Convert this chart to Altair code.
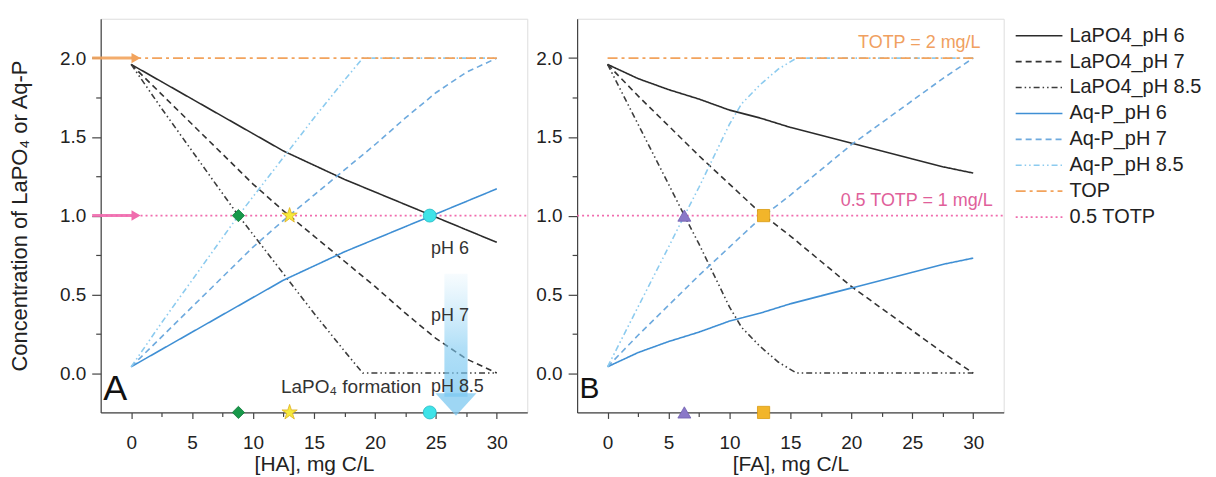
import altair as alt
import pandas as pd

FONT = "Liberation Sans"
TXT = "#222222"
AX = "#444444"

# ---------------- data ----------------
series_names = ["LaPO4_pH 6", "LaPO4_pH 7", "LaPO4_pH 8.5",
                "Aq-P_pH 6", "Aq-P_pH 7", "Aq-P_pH 8.5", "TOP", "0.5 TOTP"]
series_colors = ["#2b2b2b", "#333333", "#3d3d3d",
                 "#3f8fd4", "#6eaade", "#8ccbef", "#f2a35c", "#f06cae"]
series_dashes = [[1, 0], [6, 4], [6, 3, 1.5, 3, 1.5, 3],
                 [1, 0], [6, 4], [6, 3, 1.5, 3, 1.5, 3], [10, 4, 3, 4], [2, 3]]

x_grid = [0, 2.5, 5, 7.5, 10, 12.5, 15, 17.5, 20, 22.5, 25, 27.5, 30]

# Panel A: humic acid
ha_lapo4_ph6 = [1.96, 1.85, 1.74, 1.63, 1.52, 1.41, 1.32, 1.23, 1.15, 1.07, 0.99, 0.91, 0.83]
ha_aqp_ph6 = [0.04, 0.15, 0.26, 0.37, 0.48, 0.59, 0.68, 0.77, 0.85, 0.93, 1.01, 1.09, 1.17]
ha_lapo4_ph7 = [1.96, 1.77, 1.58, 1.39, 1.20, 1.03, 0.87, 0.71, 0.55, 0.38, 0.22, 0.09, 0.00]
ha_aqp_ph7 = [0.04, 0.23, 0.42, 0.61, 0.80, 0.97, 1.13, 1.29, 1.45, 1.62, 1.78, 1.91, 2.00]
ha_x85 = [0, 2.5, 5, 7.5, 8.8, 10, 12.5, 15, 17.5, 19, 22.5, 25, 27.5, 30]
ha_lapo4_ph85 = [1.96, 1.68, 1.41, 1.14, 1.00, 0.88, 0.63, 0.38, 0.14, 0.00, 0.00, 0.00, 0.00, 0.00]
ha_aqp_ph85 = [0.04, 0.32, 0.59, 0.86, 1.00, 1.12, 1.37, 1.62, 1.86, 2.00, 2.00, 2.00, 2.00, 2.00]

# Panel B: fulvic acid
fa_lapo4_ph6 = [1.96, 1.87, 1.80, 1.74, 1.67, 1.62, 1.56, 1.51, 1.46, 1.41, 1.36, 1.31, 1.27]
fa_aqp_ph6 = [0.04, 0.13, 0.20, 0.26, 0.33, 0.38, 0.44, 0.49, 0.54, 0.59, 0.64, 0.69, 0.73]
fa_lapo4_ph7 = [1.96, 1.76, 1.57, 1.38, 1.20, 1.02, 0.87, 0.71, 0.55, 0.41, 0.27, 0.13, 0.00]
fa_aqp_ph7 = [0.04, 0.24, 0.43, 0.62, 0.80, 0.98, 1.13, 1.29, 1.45, 1.59, 1.73, 1.87, 2.00]
fa_x85 = [0, 2.5, 5, 6.3, 7.5, 10, 11, 12.5, 14, 15.5, 20, 25, 30]
fa_lapo4_ph85 = [1.96, 1.58, 1.20, 1.00, 0.82, 0.42, 0.29, 0.17, 0.07, 0.00, 0.00, 0.00, 0.00]
fa_aqp_ph85 = [0.04, 0.42, 0.80, 1.00, 1.18, 1.58, 1.71, 1.83, 1.93, 2.00, 2.00, 2.00, 2.00]

top_x = [0, 30]
top_y = [2.0, 2.0]
half_x = [-2.5, 32.5]
half_y = [1.0, 1.0]

# markers: (on the 1 mg/L line and on the x axis)
markA_names = ["diamond", "star", "circle"]
markA_x = [8.8, 13.0, 24.5]
markB_names = ["triangle", "square"]
markB_x = [6.3, 12.8]
mark_levels = [1.0, -0.25]

# arrows on the y axis of panel A
yarrow_levels = [2.0, 1.0]
yarrow_x = [-3.2, 0.4]

# gradient arrow in panel A
garrow_x = [25.7, 27.6]
garrow_y = [0.63, -0.15]
garrow_head_x = 26.65
garrow_head_y = -0.2

# ---------------- tables ----------------
rows = []
def add(panel, name, xs, ys):
    for xv, yv in zip(xs, ys):
        rows.append({"panel": panel, "series": name, "x": xv, "y": yv})

add("A", "LaPO4_pH 6", x_grid, ha_lapo4_ph6)
add("A", "LaPO4_pH 7", x_grid, ha_lapo4_ph7)
add("A", "LaPO4_pH 8.5", ha_x85, ha_lapo4_ph85)
add("A", "Aq-P_pH 6", x_grid, ha_aqp_ph6)
add("A", "Aq-P_pH 7", x_grid, ha_aqp_ph7)
add("A", "Aq-P_pH 8.5", ha_x85, ha_aqp_ph85)
add("A", "TOP", top_x, top_y)
add("A", "0.5 TOTP", half_x, half_y)
add("B", "LaPO4_pH 6", x_grid, fa_lapo4_ph6)
add("B", "LaPO4_pH 7", x_grid, fa_lapo4_ph7)
add("B", "LaPO4_pH 8.5", fa_x85, fa_lapo4_ph85)
add("B", "Aq-P_pH 6", x_grid, fa_aqp_ph6)
add("B", "Aq-P_pH 7", x_grid, fa_aqp_ph7)
add("B", "Aq-P_pH 8.5", fa_x85, fa_aqp_ph85)
add("B", "TOP", top_x, top_y)
add("B", "0.5 TOTP", half_x, half_y)
df = pd.DataFrame(rows)

mrows = []
for n, xv in zip(markA_names, markA_x):
    for lv in mark_levels:
        mrows.append({"panel": "A", "name": n, "x": xv, "y": lv})
for n, xv in zip(markB_names, markB_x):
    for lv in mark_levels:
        mrows.append({"panel": "B", "name": n, "x": xv, "y": lv})
mdf = pd.DataFrame(mrows)

ya_df = pd.DataFrame([{"lvl": lv, "x": yarrow_x[0], "x2": yarrow_x[1]} for lv in yarrow_levels])
ga_df = pd.DataFrame([{"x": garrow_x[0], "x2": garrow_x[1], "y": garrow_y[0], "y2": garrow_y[1]}])
gh_df = pd.DataFrame([{"x": garrow_head_x, "y": garrow_head_y}])

minor_x = [2.5, 7.5, 12.5, 17.5, 22.5, 27.5]
minor_y = [0.25, 0.75, 1.25, 1.75]
minor_df = pd.DataFrame({"x": [0.0], "y": [0.0]})

# ---------------- scales / axes ----------------
xs = alt.Scale(domain=[-2.5, 32.5], nice=False, zero=False)
ys = alt.Scale(domain=[-0.25, 2.25], nice=False, zero=False)

def x_axis(title):
    return alt.Axis(title=title, values=[0, 5, 10, 15, 20, 25, 30], grid=False,
                    tickSize=6, labelPadding=15, labelFontSize=19, labelColor=TXT,
                    titleFontSize=21, titleFontWeight="normal", titleColor=TXT, titlePadding=1,
                    domainColor=AX, tickColor=AX, domainWidth=1.2, tickWidth=1.2, labelFont=FONT, titleFont=FONT)

def y_axis(title):
    kw = dict(values=[0, 0.5, 1.0, 1.5, 2.0], format=".1f", grid=False, tickSize=9, labelPadding=6,
              labelFontSize=19, labelColor=TXT, domainColor=AX, tickColor=AX, domainWidth=1.2,
              tickWidth=1.2, labelFont=FONT)
    if title:
        return alt.Axis(title=title, titleFontSize=22, titleFontWeight="normal", titleColor=TXT,
                        titlePadding=28, titleFont=FONT, **kw)
    return alt.Axis(title=None, **kw)

legend = alt.Legend(title=None, symbolType="stroke", symbolSize=2200, symbolStrokeWidth=1.6,
                    labelFontSize=20, labelFont=FONT, labelColor=TXT, rowPadding=4, clipHeight=22,
                    offset=4, padding=6, labelOffset=6)

W, H = 428, 395

def panel(p, xtitle, ytitle):
    base_lines = alt.Chart(df).transform_filter(alt.datum.panel == p).mark_line(
        strokeWidth=1.6, clip=True).encode(
        x=alt.X("x:Q", scale=xs, axis=x_axis(xtitle)),
        y=alt.Y("y:Q", scale=ys, axis=y_axis(ytitle)),
        color=alt.Color("series:N", scale=alt.Scale(domain=series_names, range=series_colors), legend=legend),
        strokeDash=alt.StrokeDash("series:N", scale=alt.Scale(domain=series_names, range=series_dashes), legend=legend),
    )
    layers = [base_lines]

    mk = alt.Chart(mdf).transform_filter(alt.datum.panel == p)
    shapes = {
        "diamond": ("diamond", "#18984a", "#0f7a38", 150),
        "star": ("M0,-1L0.2245,-0.309L0.951,-0.309L0.363,0.118L0.588,0.809L0,0.382L-0.588,0.809L-0.363,0.118L-0.951,-0.309L-0.2245,-0.309Z",
                 "#f5ea3c", "#e0b020", 260),
        "circle": ("circle", "#3fe3e8", "#26b9c4", 170),
        "triangle": ("triangle-up", "#8a78c8", "#7060b0", 170),
        "square": ("square", "#f2b52a", "#d99a10", 150),
    }
    names = markA_names if p == "A" else markB_names
    for n in names:
        shp, fill, stroke, size = shapes[n]
        layers.append(mk.transform_filter(alt.datum.name == n).mark_point(
            shape=shp, filled=True, fill=fill, stroke=stroke, strokeWidth=0.8, size=size, opacity=1).encode(
            x=alt.X("x:Q", scale=xs, axis=None), y=alt.Y("y:Q", scale=ys, axis=None)))

    if p == "A":
        # gradient arrow
        layers.append(alt.Chart(ga_df).mark_rect(
            color=alt.Gradient(gradient="linear", stops=[
                alt.GradientStop(color="rgba(150,212,245,0.08)", offset=0),
                alt.GradientStop(color="rgba(125,202,242,0.6)", offset=0.6),
                alt.GradientStop(color="rgba(110,195,240,0.7)", offset=1)],
                x1=0, x2=0, y1=0, y2=1)).encode(
            x=alt.X("x:Q", scale=xs, axis=None), x2="x2:Q",
            y=alt.Y("y:Q", scale=ys, axis=None), y2="y2:Q"))
        layers.append(alt.Chart(gh_df).mark_point(
            shape="M-1,-0.55L1,-0.55L0,0.55Z", filled=True, fill="#7ec8f0", opacity=0.75, size=1700).encode(
            x=alt.X("x:Q", scale=xs, axis=None), y=alt.Y("y:Q", scale=ys, axis=None)))
        # arrows on the y axis
        ya_colors = ["#f2a35c", "#f06cae"]
        for lv, col in zip(yarrow_levels, ya_colors):
            d = ya_df[ya_df.lvl == lv]
            layers.append(alt.Chart(d).mark_rule(color=col, strokeWidth=3, opacity=0.9).encode(
                x=alt.X("x:Q", scale=xs, axis=None), x2="x2:Q",
                y=alt.Y("lvl:Q", scale=ys, axis=None)))
            layers.append(alt.Chart(d).mark_point(shape="triangle-right", filled=True, fill=col,
                                                  opacity=1, size=110).encode(
                x=alt.X("x2:Q", scale=xs, axis=None), y=alt.Y("lvl:Q", scale=ys, axis=None)))
        txt = [
            ("A", -2.3, -0.1, 36, "left", "#111111"),
            ("LaPO\u2084 formation", 23.8, -0.09, 19, "right", "#333333"),
            ("pH 6", 24.6, 0.79, 18, "left", "#333333"),
            ("pH 7", 24.6, 0.36, 18, "left", "#333333"),
            ("pH 8.5", 24.6, -0.09, 18, "left", "#333333"),
        ]
    else:
        txt = [
            ("B", -2.3, -0.1, 30, "left", "#111111"),
            ("TOTP = 2 mg/L", 30.6, 2.095, 18, "right", "#f0a060"),
            ("0.5 TOTP = 1 mg/L", 31.6, 1.09, 18, "right", "#e0609a"),
        ]
    for t, tx, ty, fs, al, col in txt:
        layers.append(alt.Chart(pd.DataFrame([{"t": t, "x": tx, "y": ty}])).mark_text(
            fontSize=fs, align=al, baseline="middle", color=col, font=FONT).encode(
            x=alt.X("x:Q", scale=xs, axis=None), y=alt.Y("y:Q", scale=ys, axis=None), text="t:N"))

    # minor ticks
    layers.append(alt.Chart(minor_df).mark_point(opacity=0).encode(
        x=alt.X("x:Q", scale=xs, axis=alt.Axis(values=minor_x, labels=False, domain=False, tickSize=4,
                                               title=None, grid=False, orient="bottom", tickColor=AX, tickWidth=1.2)),
        y=alt.Y("y:Q", scale=ys, axis=alt.Axis(values=minor_y, labels=False, domain=False, tickSize=5,
                                               title=None, grid=False, orient="left", tickColor=AX, tickWidth=1.2))))

    return alt.layer(*layers).resolve_axis(x="independent", y="independent").properties(width=W, height=H)

A = panel("A", "[HA], mg C/L", "Concentration of LaPO\u2084 or Aq-P")
B = panel("B", "[FA], mg C/L", None)

chart = alt.hconcat(A, B, spacing=7).properties(
    padding={"left": 0, "top": 9, "right": 0, "bottom": 0}
).configure_view(stroke=AX, strokeWidth=1.5).configure(font=FONT)

chart.save("out.html", embed_options={"renderer": "svg", "actions": False})
